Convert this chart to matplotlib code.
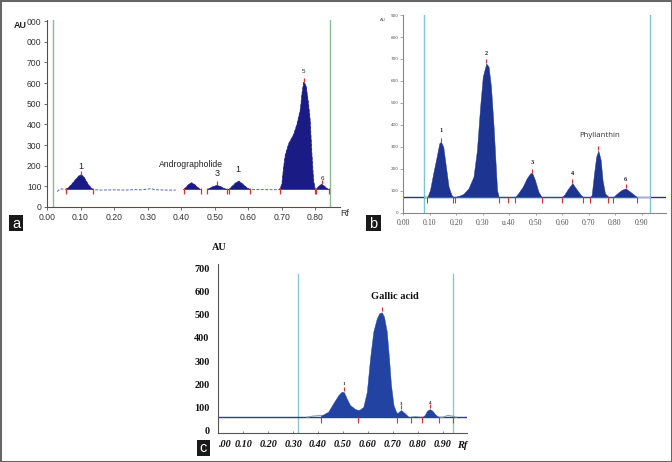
import numpy as np
import matplotlib
matplotlib.use("Agg")
import matplotlib.pyplot as plt
from matplotlib.patches import Rectangle

# ---------------- data ----------------
# Panel a (Andrographolide densitogram)
a_rf = [0.030, 0.040, 0.050, 0.057, 0.065, 0.075, 0.085, 0.095, 0.102, 0.110, 0.118, 0.126, 0.137,
        0.160, 0.200, 0.230, 0.260, 0.280, 0.300, 0.310, 0.320, 0.350, 0.384, 0.395,
        0.407, 0.415, 0.423, 0.431, 0.440, 0.450, 0.458, 0.468,
        0.478, 0.490, 0.500, 0.507, 0.515, 0.525, 0.535,
        0.542, 0.552, 0.562, 0.572, 0.582, 0.593, 0.604,
        0.620, 0.650, 0.680, 0.693,
        0.700, 0.705, 0.710, 0.720, 0.735, 0.745, 0.755, 0.760, 0.765, 0.772, 0.779, 0.784, 0.789, 0.794, 0.799,
        0.802, 0.810, 0.819, 0.828, 0.839, 0.845]
a_au = [75, 88, 86, 86, 95, 112, 132, 150, 156, 145, 122, 102, 84,
        82, 83, 82, 84, 83, 86, 90, 84, 82, 82, np.nan,
        84, 96, 110, 117, 108, 93, 84, np.nan,
        84, 95, 101, 104, 100, 92, 84,
        84, 100, 116, 125, 112, 96, 85,
        85, 84, 84, 84,
        110, 190, 250, 305, 350, 400, 470, 550, 605, 585, 500, 420, 260, 130, 84,
        84, 100, 110, 98, 84, 84]
a_base = 84
a_peak_start = [0.057, 0.407, 0.478, 0.542, 0.693, 0.802]
a_peak_end = [0.137, 0.458, 0.535, 0.604, 0.799, 0.839]
a_apex_rf = [0.102, 0.507, 0.765, 0.819]
a_apex_au = [156, 104, 605, 110]
a_window = [0.019, 0.842]
a_xticks = [0.0, 0.1, 0.2, 0.3, 0.4, 0.5, 0.6, 0.7, 0.8]
a_xlabels = ["0.00", "0.10", "0.20", "0.30", "0.40", "0.50", "0.60", "0.70", "0.80"]
a_yticks = [0, 100, 200, 300, 400, 500, 600, 700, 800, 900]
a_ylabels = ["0", "100", "200", "300", "400", "500", "600", "700", "000", "000"]
a_peak_labels = ["1", "Andrographolide", "3", "1", "5", "6"]
a_label_rf = [0.102, 0.428, 0.507, 0.569, 0.765, 0.819]
a_label_au = [175, 182, 139, 160, 645, 127]

# Panel b (Phyllanthin densitogram)
b_rf = [0.092, 0.102, 0.114, 0.127, 0.137, 0.143, 0.152, 0.162, 0.172, 0.183, 0.190,
        0.196, 0.215, 0.228, 0.247, 0.266, 0.279, 0.291, 0.301, 0.314, 0.323, 0.332, 0.342, 0.348, 0.355, 0.361,
        0.423, 0.435, 0.452, 0.467, 0.480, 0.487, 0.498, 0.511, 0.523,
        0.599, 0.608, 0.624, 0.639, 0.655, 0.671, 0.680,
        0.706, 0.712, 0.721, 0.729, 0.737, 0.746, 0.753, 0.762, 0.775,
        0.794, 0.806, 0.825, 0.840, 0.857, 0.876, 0.882]
b_au = [73, 105, 180, 256, 317, 324, 301, 210, 120, 82, 73,
        73, 80, 87, 112, 165, 286, 483, 620, 680, 665, 574, 392, 256, 105, 73,
        73, 90, 120, 158, 180, 183, 150, 97, 73,
        73, 82, 112, 136, 108, 82, 73,
        73, 82, 180, 256, 284, 241, 150, 90, 73,
        73, 87, 105, 112, 97, 79, 73]
b_base = 73
b_bounds = [0.092, 0.190, 0.196, 0.361, 0.395, 0.423, 0.523, 0.599, 0.680, 0.706, 0.775, 0.794, 0.882]
b_apex_rf = [0.143, 0.314, 0.487, 0.639, 0.737, 0.840]
b_apex_au = [324, 680, 183, 136, 284, 112]
b_window = [0.079, 0.932]
b_xticks = [0.0, 0.1, 0.2, 0.3, 0.4, 0.5, 0.6, 0.7, 0.8, 0.9]
b_xlabels = ["0:00", "0:10", "0:20", "0:30", "u.40", "0:50", "0:60", "0:70", "0:80", "0:90"]
b_yticks = [0, 100, 200, 300, 400, 500, 600, 700, 800, 900]
b_ylabels = ["0", "100", "200", "300", "400", "500", "600", "700", "800", "900"]
b_peak_labels = ["1", "2", "3", "4", "Phyllanthin", "6"]
b_label_rf = [0.143, 0.314, 0.487, 0.639, 0.743, 0.840]
b_label_au = [362, 713, 218, 170, 336, 143]

# Panel c (Gallic acid densitogram)
c_rf = [0.411, 0.421, 0.441, 0.461, 0.482, 0.495, 0.504, 0.515, 0.528, 0.549, 0.562,
        0.569, 0.582, 0.596, 0.609, 0.622, 0.636, 0.646, 0.656, 0.665, 0.676, 0.685, 0.693, 0.703, 0.713,
        0.719, 0.733, 0.749, 0.763, 0.774,
        0.818, 0.829, 0.838, 0.849, 0.859, 0.873, 0.886]
c_au = [66, 70, 82, 118, 154, 168, 166, 139, 111, 93, 89,
        92, 103, 168, 312, 427, 484, 506, 510, 491, 427, 312, 197, 111, 82,
        76, 89, 75, 60, 58,
        58, 68, 86, 93, 86, 68, 58]
c_gray_rf = [0.355, 0.381, 0.401, 0.411, np.nan, 0.774, 0.790, 0.810, 0.818, np.nan,
             0.886, 0.902, 0.922, 0.942, 0.955]
c_gray_au = [58, 63, 65, 66, np.nan, 58, 61, 58, 58, np.nan, 58, 58, 66, 62, 58]
c_base = 58
c_bounds = [0.411, 0.562, 0.719, 0.774, 0.818, 0.886, 0.942]
c_apex_rf = [0.504, 0.656, 0.733, 0.849]
c_apex_au = [168, 510, 89, 93]
c_window = [0.318, 0.943]
c_xticks = [0.0, 0.1, 0.2, 0.3, 0.4, 0.5, 0.6, 0.7, 0.8, 0.9]
c_xlabels = [".00", "0.10", "0.20", "0.30", "0.40", "0.50", "0.60", "0.70", "0.80", "0.90"]
c_yticks = [0, 100, 200, 300, 400, 500, 600, 700]
c_peak_labels = ["1", "Gallic acid", "3", "4"]
c_label_rf = [0.504, 0.709, 0.733, 0.849]
c_label_au = [200, 578, 115, 118]

# ---------------- figure ----------------
W, H = 672, 462
fig = plt.figure(figsize=(W / 100, H / 100), dpi=100)
fig.patch.set_facecolor("white")


def add_ax(l, t, r, b):
    ax = fig.add_axes([l / W, 1 - b / H, (r - l) / W, (b - t) / H])
    ax.patch.set_alpha(0)
    for s in ("top", "right"):
        ax.spines[s].set_visible(False)
    return ax


def ftext(px, py, s, **kw):
    fig.text(px / W, 1 - py / H, s, **kw)


def panel_tag(l, t, r, b, s):
    fig.patches.append(Rectangle((l / W, 1 - b / H), (r - l) / W, (b - t) / H,
                                 transform=fig.transFigure, facecolor="#1a1a1a",
                                 edgecolor="none"))
    ftext((l + r) / 2, (t + b) / 2 + 0.5, s, color="white", fontsize=10.5,
          ha="center", va="center", family="Liberation Sans")


red = "#e0302a"

# ---- panel a ----
axA = add_ax(47, 20, 340, 207)
axA.set_xlim(0.004, 0.873)
axA.set_ylim(0, 905)
for s in ("left", "bottom"):
    axA.spines[s].set_color("#5b4b45")
    axA.spines[s].set_linewidth(0.8)
for x in a_window:
    axA.axvline(x, color="#8dbb98", lw=1.0, zorder=1)
rfa = np.array(a_rf)
aua = np.array(a_au, dtype=float)
axA.plot(rfa, aua, color="#5a6aa8", lw=0.7, dashes=(3, 1.5), zorder=2)
mask = np.zeros(len(rfa), bool)
for s, e in zip(a_peak_start, a_peak_end):
    mask |= (rfa >= s - 1e-9) & (rfa <= e + 1e-9)
mask &= ~np.isnan(aua)
axA.fill_between(rfa, a_base, np.nan_to_num(aua, nan=a_base), where=mask,
                 color="#1b1b85", lw=0.3, edgecolor="#1b1b85", zorder=3)
axA.plot(a_peak_start + a_peak_end, [a_base - 8] * (2 * len(a_peak_start)),
         ls="none", marker="|", ms=4.5, mew=0.9, color=red, zorder=4)
axA.plot(a_apex_rf, [v + 10 for v in a_apex_au], ls="none", marker="|", ms=3.5,
         mew=0.9, color=red, zorder=4)
for s, x, y in zip(a_peak_labels, a_label_rf, a_label_au):
    fs = 6.2 if len(s) > 1 else 6.5
    if s in ("5", "6"):
        fs = 4.5
    axA.text(x, y, s, ha="center", va="bottom", fontsize=fs, color="#222",
             family="Liberation Sans")
axA.set_xticks(a_xticks, a_xlabels)
axA.set_yticks(a_yticks, a_ylabels)
axA.tick_params(labelsize=6.2, length=2.5, width=0.6, color="#555", pad=1.5,
                labelcolor="#333")
for lab in axA.get_xticklabels() + axA.get_yticklabels():
    lab.set_family("Liberation Sans")
ftext(20, 25, "AU", fontsize=6.5, fontweight="bold", ha="center", va="center",
      family="Liberation Sans", color="#222")
ftext(345, 213, "Rf", fontsize=6.5, ha="center", va="center",
      family="Liberation Sans", color="#333")

# ---- panel b ----
axB = add_ax(403, 15, 666, 213)
axB.set_xlim(0, (666 - 403) / 265)
axB.set_ylim(0, 900)
for s in ("left", "bottom"):
    axB.spines[s].set_color("#888888")
    axB.spines[s].set_linewidth(0.8)
for x in b_window:
    axB.axvline(x, color="#7fc6cf", lw=1.0, zorder=1)
axB.axhline(b_base, color="#2a2f8a", lw=1.0, zorder=2)
axB.plot(b_window, [b_base, b_base], color="#7fc6cf", lw=0.9, zorder=2)
rfb = np.array(b_rf)
aub = np.array(b_au, dtype=float)
axB.fill_between(rfb, b_base, aub, where=aub > b_base - 0.5, color="#1d3590",
                 lw=0.3, edgecolor="#1d3590", zorder=3)
axB.plot(b_bounds, [b_base - 12] * len(b_bounds), ls="none", marker="|", ms=4,
         mew=0.8, color=red, zorder=4)
axB.plot(b_apex_rf, [v + 10 for v in b_apex_au], ls="none", marker="|", ms=3,
         mew=0.8, color=red, zorder=4)
for s, x, y in zip(b_peak_labels, b_label_rf, b_label_au):
    if len(s) > 1:
        axB.text(x, y, s, ha="center", va="bottom", fontsize=5.6, color="#333",
                 family="Open Sans")
    else:
        axB.text(x, y, s, ha="center", va="bottom", fontsize=4.5, color="#222",
                 family="Liberation Serif", fontweight="bold")
axB.set_xticks(b_xticks, b_xlabels)
axB.set_yticks(b_yticks, b_ylabels)
axB.tick_params(axis="x", labelsize=5.6, length=1.5, width=0.5, color="#888",
                pad=2.5, labelcolor="#555")
axB.tick_params(axis="y", labelsize=3, length=2, width=0.5, color="#888",
                pad=1, labelcolor="#555")
for lab in axB.get_xticklabels():
    lab.set_family("Liberation Serif")
ftext(383, 20, "AU", fontsize=3, ha="center", va="center", color="#555")

# ---- panel c ----
axC = add_ax(218, 264, 467, 433)
axC.set_xlim(-0.002, (467 - 218.4) / 249)
axC.set_ylim(-10, 718)
for s in ("left", "bottom"):
    axC.spines[s].set_color("#555555")
    axC.spines[s].set_linewidth(0.8)
for x in c_window:
    axC.axvline(x, ymin=0, ymax=0.94, color="#86c9d2", lw=1.0, zorder=1)
axC.plot([0, 1.0], [c_base, c_base], color="#2d3a9a", lw=1.0, zorder=2)
axC.plot(c_gray_rf, c_gray_au, color="#8a9ab0", lw=0.8, zorder=2)
rfc = np.array(c_rf)
auc = np.array(c_au, dtype=float)
maskc = ~((rfc > 0.775) & (rfc < 0.817))
axC.fill_between(rfc, c_base, auc, where=maskc, color="#2343a3", lw=0.3,
                 edgecolor="#2343a3", zorder=3)
axC.plot(c_bounds, [c_base - 14] * len(c_bounds), ls="none", marker="|", ms=4.5,
         mew=0.8, color=red, zorder=4)
axC.plot(c_apex_rf, [v + 12 for v in c_apex_au], ls="none", marker="|", ms=3,
         mew=0.8, color=red, zorder=4)
for s, x, y in zip(c_peak_labels, c_label_rf, c_label_au):
    if len(s) > 1:
        axC.text(x, y, s, ha="center", va="center", fontsize=7.5, color="#111",
                 family="Liberation Serif", fontweight="bold")
    else:
        axC.text(x, y, s, ha="center", va="center", fontsize=3.5, color="#222",
                 family="Liberation Serif", fontweight="bold")
axC.set_xticks(c_xticks, c_xlabels)
axC.set_yticks(c_yticks, [str(v) for v in c_yticks])
axC.tick_params(axis="x", labelsize=7.3, length=1.5, width=0.5, direction="in",
                color="#555", pad=5, labelcolor="#111")
axC.tick_params(axis="y", labelsize=7.3, length=0, pad=6, labelcolor="#111")
for lab in axC.get_xticklabels():
    lab.set_family("Liberation Serif")
    lab.set_fontweight("bold")
    lab.set_fontstyle("italic")
for lab in axC.get_yticklabels():
    lab.set_family("Liberation Serif")
    lab.set_fontweight("bold")
axC.get_xticklabels()[0].set_horizontalalignment("left")
ftext(219, 247, "AU", fontsize=7.3, fontweight="bold", ha="center", va="center",
      family="Liberation Serif", color="#111")
ftext(462, 445, "Rf", fontsize=7.5, fontweight="bold", fontstyle="italic",
      ha="center", va="center", family="Liberation Serif", color="#111")

# panel tags
panel_tag(9, 215, 23, 231, "a")
panel_tag(366, 215, 381, 231, "b")
panel_tag(197, 440, 210, 456, "c")

# outer frame
fig.patches.append(Rectangle((0, 0), 1, 1, transform=fig.transFigure, fill=False,
                             edgecolor="#666666", lw=2.2))

fig.savefig("out.png", dpi=100)
